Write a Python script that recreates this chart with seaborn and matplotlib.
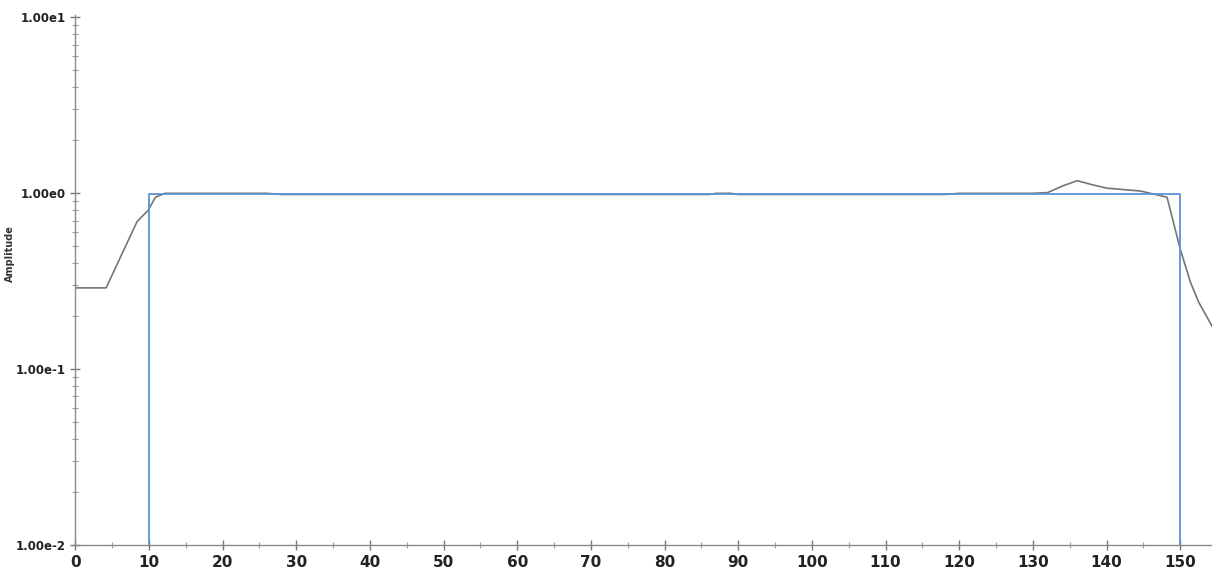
import numpy as np
import pandas as pd
import matplotlib
matplotlib.use("Agg")
import matplotlib.pyplot as plt
import matplotlib.ticker as mticker
import seaborn as sns

# Ideal mask (blue)
ideal_x = [10, 10, 150, 150]
ideal_y = [0.01, 0.985, 0.985, 0.01]

# Measured response (gray)
meas_x = [0, 4.2, 8.4, 9.9, 10.9, 12.2, 26, 28, 86, 87, 89, 90, 118, 120, 130, 132,
          134, 136, 138, 140, 144.6, 148.2, 150, 151.4, 152.5, 154.5]
meas_y = [0.29, 0.29, 0.69, 0.80, 0.95, 1.0, 1.0, 0.985, 0.985, 1.0, 1.0, 0.985, 0.985, 1.0, 1.0, 1.01,
          1.1, 1.18, 1.12, 1.07, 1.03, 0.95, 0.48, 0.31, 0.24, 0.17]

x_ticks = list(range(0, 151, 10))
y_ticks = [0.01, 0.1, 1, 10]
y_tick_labels = ["1.00e-2", "1.00e-1", "1.00e0", "1.00e1"]

sns.set_style("white")
plt.rcParams['font.family'] = ['DejaVu Sans']

fig = plt.figure(figsize=(12.12, 5.83), dpi=100)
ax = fig.add_axes([0.062, 0.065, 0.938, 0.909])

sns.lineplot(x=meas_x, y=meas_y, estimator=None, sort=False, ax=ax,
             color="#757575", linewidth=1.2, zorder=2)
sns.lineplot(x=ideal_x, y=ideal_y, estimator=None, sort=False, ax=ax,
             color="#5b93d3", linewidth=1.3, zorder=3)

ax.set_yscale("log")
ax.set_ylim(0.01, 10.3)
ax.set_xlim(0, 154.3)
ax.set_xticks(x_ticks)
ax.set_xticklabels([str(v) for v in x_ticks])
ax.xaxis.set_minor_locator(mticker.MultipleLocator(5))
ax.set_yticks(y_ticks)
ax.set_yticklabels(y_tick_labels)
ax.yaxis.set_minor_locator(mticker.LogLocator(base=10, subs=np.arange(2, 10)))
ax.yaxis.set_minor_formatter(mticker.NullFormatter())

for s in ["top", "right"]:
    ax.spines[s].set_visible(False)
for s in ["left", "bottom"]:
    ax.spines[s].set_color("#8a8a8a")
    ax.spines[s].set_linewidth(1.0)

ax.tick_params(axis="both", which="both", bottom=True, left=True)
ax.tick_params(axis="both", which="major", direction="inout", length=7, width=1,
               color="#777777", labelcolor="#222222")
ax.tick_params(axis="x", which="major", labelsize=11)
ax.tick_params(axis="y", which="major", labelsize=8.5)
ax.tick_params(axis="both", which="minor", direction="inout", length=4, width=0.8,
               color="#999999")
for lab in ax.get_xticklabels() + ax.get_yticklabels():
    lab.set_fontweight("bold")

ax.set_ylabel("Amplitude", fontsize=7, fontweight="bold", color="#333333")
ax.yaxis.set_label_coords(-0.053, 0.55)
ax.set_xlabel("")

fig.savefig("out.png", dpi=100)
